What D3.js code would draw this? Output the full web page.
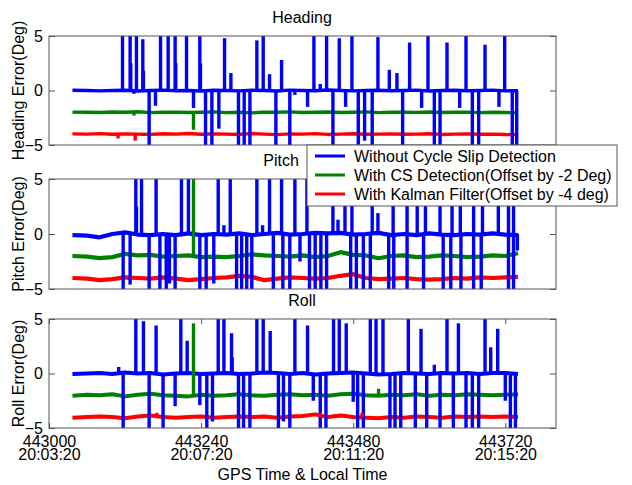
<!DOCTYPE html>
<html><head><meta charset="utf-8">
<script src="https://cdn.jsdelivr.net/npm/d3@7"></script>
<style>
body{margin:0;background:#fff;}
svg text{font-family:"Liberation Sans",Arial,sans-serif;font-size:16px;fill:#000;}
</style></head>
<body><svg id="c" width="632" height="485"></svg>
<script>
// ---------- data ----------
const xTicks = [443000, 443240, 443480, 443720];
const gpsLabels = ["443000", "443240", "443480", "443720"];
const timeLabels = ["20:03:20", "20:07:20", "20:11:20", "20:15:20"];
const yTicks = [-5, 0, 5];
const panelTitles = ["Heading", "Pitch", "Roll"];
const yLabels = ["Heading Error(Deg)", "Pitch Error(Deg)", "Roll Error(Deg)"];
const xLabel = "GPS Time & Local Time";
const seriesNames = ["Without Cycle Slip Detection", "With CS Detection(Offset by -2 Deg)", "With Kalman Filter(Offset by -4 deg)"];
const offsets = [0, -2, -4];

const baseTimes = [443037, 443060, 443080, 443100, 443120, 443140, 443160, 443180, 443200, 443220, 443240, 443260,
  443280, 443300, 443320, 443340, 443360, 443380, 443400, 443420, 443440, 443460, 443480, 443500,
  443520, 443540, 443560, 443580, 443600, 443620, 443640, 443660, 443680, 443700, 443720, 443740];

const headingBlue = [0.02, 0.0, -0.03, 0.0, 0.02, -0.05, 0.0, 0.03, -0.02, 0.0, -0.04, 0.02, 0.0, -0.03, 0.02, 0.0, -0.05, 0.03, 0.0, -0.02, 0.04, 0.0, -0.03, 0.0, 0.02, -0.02, 0.0, 0.03, -0.04, 0.0, 0.02, -0.02, 0.0, 0.03, -0.03, -0.02];
const headingGreen = [-1.98, -2.0, -2.02, -1.97, -2.0, -1.95, -2.03, -2.0, -1.98, -2.02, -2.0, -1.96, -2.03, -2.0, -2.05, -1.98, -2.0, -1.96, -2.02, -2.0, -1.97, -2.02, -2.0, -1.96, -2.03, -2.0, -1.98, -2.01, -1.97, -2.02, -2.0, -1.98, -2.03, -2.0, -2.02, -2.05];
const headingRed = [-3.98, -4.0, -3.96, -4.02, -3.98, -4.0, -4.03, -3.97, -4.0, -3.95, -4.02, -3.98, -4.0, -4.03, -3.95, -4.0, -4.05, -3.98, -4.0, -3.96, -4.03, -4.0, -3.97, -4.02, -4.0, -3.98, -4.02, -4.0, -3.97, -4.03, -4.0, -3.98, -4.02, -4.0, -4.04, -4.05];

const pitchBlue = [-0.1, -0.15, -0.3, 0.0, 0.15, -0.05, -0.1, 0.0, -0.1, 0.05, -0.1, 0.0, -0.05, 0.05, -0.1, 0.0, 0.1, -0.05, 0.0, 0.1, 0.05, 0.1, -0.05, 0.0, 0.1, -0.1, 0.0, -0.1, 0.05, -0.05, -0.1, 0.0, -0.05, 0.05, -0.05, -0.1];
const pitchGreen = [-2.0, -2.05, -2.2, -2.1, -1.8, -1.95, -1.9, -2.05, -2.0, -1.95, -2.1, -2.05, -2.1, -2.0, -1.85, -1.95, -2.0, -2.05, -1.95, -2.1, -2.0, -1.65, -1.9, -1.95, -2.2, -2.0, -1.95, -2.1, -2.05, -1.95, -2.0, -2.1, -2.05, -1.95, -2.0, -1.75];
const pitchRed = [-4.0, -4.05, -4.2, -4.1, -3.95, -4.0, -4.05, -3.95, -4.05, -4.2, -4.1, -4.0, -3.95, -3.8, -3.9, -4.2, -4.05, -3.95, -4.0, -4.05, -4.0, -3.8, -3.65, -4.0, -4.1, -4.05, -4.0, -4.1, -4.15, -4.1, -4.0, -4.05, -3.95, -4.0, -3.95, -3.9];

const rollBlue = [-0.05, 0.0, 0.05, -0.05, 0.1, 0.0, 0.05, -0.1, 0.0, 0.05, -0.05, 0.0, 0.05, -0.05, 0.0, 0.1, 0.05, -0.05, 0.05, -0.1, 0.0, 0.05, 0.1, 0.0, -0.1, -0.05, 0.05, 0.0, -0.05, 0.05, 0.0, 0.05, -0.05, 0.05, 0.05, -0.05];
const rollGreen = [-2.05, -1.95, -2.0, -1.9, -2.1, -1.95, -1.85, -2.0, -2.05, -2.1, -1.95, -2.05, -2.0, -1.9, -2.0, -2.05, -1.95, -1.9, -2.0, -1.95, -2.05, -1.9, -1.85, -2.0, -2.05, -1.95, -2.0, -1.9, -2.05, -1.95, -2.0, -1.9, -1.95, -2.0, -1.95, -1.9];
const rollRed = [-4.05, -4.0, -3.95, -4.0, -4.1, -3.95, -3.85, -4.0, -4.05, -4.0, -3.95, -4.05, -4.0, -3.95, -4.0, -3.95, -4.05, -3.95, -3.9, -3.75, -4.0, -3.85, -4.0, -4.05, -4.1, -4.0, -4.05, -3.95, -4.0, -4.05, -3.95, -4.0, -3.95, -4.0, -3.95, -4.0];

// spikes: [GPS time, peak value] (values beyond +-5 are clipped by the axes)
const headingBlueSpikes = [
  [443116, 8], [443128, 8], [443129, 2.5], [443138, 8], [443148, 4.7], [443149, 1.8], [443176, 8], [443188, 8], [443199, 8], [443200, 2.5],
  [443217, 8], [443238, 8], [443239, 2.5], [443277, 4.8], [443287, 1.6], [443328, 4.6], [443338, 8], [443348, 1.5], [443367, 2.8],
  [443418, 8], [443428, 0.6], [443438, 8], [443458, 4.8], [443478, 8], [443519, 4.9], [443537, 1.9], [443549, 1.6], [443569, 4.4],
  [443598, 8], [443628, 4.4], [443658, 8], [443688, 4.2], [443719, 8],
  [443134, -0.3], [443158, -8], [443168, -1.4], [443228, -1.6], [443247, -8], [443257, -8], [443268, -3.5], [443299, -8], [443308, -8],
  [443317, -8], [443358, -8], [443380, -8], [443388, -0.4], [443408, -1.5], [443448, -8], [443468, -1.5], [443488, -8], [443498, -4.6],
  [443510, -8], [443558, -8], [443588, -1.6], [443608, -8], [443617, -8], [443648, -1.6], [443668, -8], [443678, -8], [443710, -1.5],
  [443731, -8], [443738, -8]];
const headingGreenSpikes = [[443134, -2.3], [443228, -3.6]];
const headingRedSpikes = [[443109, -4.4], [443136, -4.6]];

const pitchBlueSpikes = [
  [443137, 8], [443138, 2.5], [443146, 8], [443169, 8], [443209, 8], [443220, 8], [443267, 8], [443276, 0.8], [443286, 8], [443328, 8],
  [443337, 0.8], [443348, 8], [443367, 8], [443388, 8], [443407, 8], [443448, 8], [443456, 1.3], [443467, 8], [443478, 8], [443510, 8],
  [443519, 1.9], [443543, 8], [443565, 8], [443581, 8], [443594, 8], [443617, 8], [443636, 8], [443649, 8], [443670, 8], [443684, 8],
  [443709, 8], [443725, 8], [443733, 8],
  [443117, -8], [443128, -4.6], [443158, -8], [443175, -8], [443185, -8], [443190, -4.5], [443199, -8], [443238, -8], [443248, -8],
  [443260, -4.5], [443296, -8], [443304, -8], [443312, -8], [443320, -8], [443354, -8], [443369, -8], [443380, -8], [443396, -2.5],
  [443411, -8], [443420, -8], [443429, -8], [443438, -8], [443476, -8], [443485, -8], [443496, -8], [443507, -8], [443536, -8],
  [443544, -8], [443565, -8], [443591, -8], [443622, -8], [443634, -8], [443650, -8], [443670, -8], [443682, -8], [443725, -8],
  [443733, -8], [443739, -1.5]];
const pitchGreenSpikes = [[443228, 8]];
const pitchRedSpikes = [];

const rollBlueSpikes = [
  [443137, 8], [443149, 4.8], [443169, 4.4], [443208, 8], [443218, 3.0], [443267, 8], [443276, 8], [443288, 3.7], [443289, 1.5],
  [443328, 8], [443338, 8], [443349, 3.9], [443388, 8], [443408, 4.4], [443449, 8], [443458, 8], [443469, 4.6], [443507, 8],
  [443516, 8], [443527, 8], [443567, 8], [443587, 4.1], [443608, 0.8], [443628, 8], [443646, 4.6], [443688, 8], [443697, 2.4],
  [443708, 4.1], [443110, 0.6],
  [443117, -8], [443158, -8], [443180, -8], [443199, -3.0], [443238, -2.9], [443249, -8], [443258, -4.4], [443299, -8], [443307, -8],
  [443317, -8], [443362, -8], [443370, -4.4], [443380, -8], [443417, -2.5], [443428, -8], [443437, -8], [443480, -2.6], [443487, -8],
  [443496, -8], [443538, -8], [443546, -8], [443555, -8], [443578, -8], [443596, -8], [443617, -8], [443638, -8], [443658, -8],
  [443668, -8], [443678, -8], [443720, -2.5], [443728, -8], [443736, -8]];
const rollGreenSpikes = [[443228, 4.6], [443520, -1.4]];
const rollRedSpikes = [[443170, -3.6], [443428, -3.6], [443494, -3.6]];

const panelSeries = [
  [headingBlue, headingGreen, headingRed],
  [pitchBlue, pitchGreen, pitchRed],
  [rollBlue, rollGreen, rollRed]];
const panelSpikes = [
  [headingBlueSpikes, headingGreenSpikes, headingRedSpikes],
  [pitchBlueSpikes, pitchGreenSpikes, pitchRedSpikes],
  [rollBlueSpikes, rollGreenSpikes, rollRedSpikes]];

// ---------- drawing ----------
const colors = ["#0000ff", "#008000", "#ff0000"];
const axisColor = "#555";
const L = 49, R = 556;
const panels = [{top: 36, bottom: 145, lw: 3.4}, {top: 179, bottom: 289, lw: 4.2}, {top: 319, bottom: 428, lw: 4.0}];
const svg = d3.select("#c");
const x = d3.scaleLinear().domain([443000, 443800]).range([L, R]);
const drawOrder = [2, 1, 0];

panels.forEach((p, i) => {
  const y = d3.scaleLinear().domain([-5, 5]).range([p.bottom, p.top]);
  const clipId = "clip" + i;
  svg.append("clipPath").attr("id", clipId).append("rect")
    .attr("x", L).attr("y", p.top).attr("width", R - L).attr("height", p.bottom - p.top);
  const g = svg.append("g").attr("clip-path", `url(#${clipId})`);
  const line = d3.line().x((d, k) => x(baseTimes[k])).y(d => y(d));
  drawOrder.forEach(s => {
    g.append("path").datum(panelSeries[i][s]).attr("d", line)
      .attr("fill", "none").attr("stroke", colors[s]).attr("stroke-width", p.lw).attr("stroke-linejoin", "round");
  });
  [0, 1, 2].forEach(s => {
    g.selectAll(null).data(panelSpikes[i][s]).enter().append("line")
      .attr("x1", d => x(d[0])).attr("x2", d => x(d[0]))
      .attr("y1", y(offsets[s])).attr("y2", d => y(d[1]))
      .attr("stroke", colors[s]).attr("stroke-width", 3.4);
  });
  svg.append("rect").attr("x", L).attr("y", p.top).attr("width", R - L).attr("height", p.bottom - p.top)
    .attr("fill", "none").attr("stroke", axisColor).attr("stroke-width", 1);
  const ya = svg.append("g").attr("transform", `translate(${L},0)`)
    .call(d3.axisLeft(y).tickValues(yTicks).tickSizeInner(-6).tickSizeOuter(0).tickPadding(6));
  ya.select(".domain").remove();
  ya.selectAll("line").attr("stroke", axisColor);
  ya.selectAll("text").attr("font-size", 16).attr("font-family", "Liberation Sans, Arial, sans-serif").attr("fill", "#000");
  const yr = svg.append("g").attr("transform", `translate(${R},0)`)
    .call(d3.axisRight(y).tickValues(yTicks).tickSizeInner(-6).tickSizeOuter(0).tickFormat(""));
  yr.select(".domain").remove();
  yr.selectAll("line").attr("stroke", axisColor);
  svg.append("text").attr("x", i === 1 ? 281 : 302).attr("y", p.top - 13)
    .attr("text-anchor", "middle").text(panelTitles[i]);
  svg.append("text").attr("transform", `translate(24,${(p.top + p.bottom) / 2}) rotate(-90)`)
    .attr("text-anchor", "middle").text(yLabels[i]);
  if (i === 2) {
    const xb = svg.append("g").attr("transform", `translate(0,${p.bottom})`)
      .call(d3.axisBottom(x).tickValues(xTicks).tickSizeInner(-5).tickSizeOuter(0).tickFormat(""));
    xb.select(".domain").remove();
    xb.selectAll("line").attr("stroke", axisColor);
    xb.selectAll(".tick").each(function(d, k) {
      const t = d3.select(this).append("text").attr("text-anchor", "middle")
        .attr("font-size", 16).attr("font-family", "Liberation Sans, Arial, sans-serif").attr("fill", "#000");
      t.append("tspan").attr("x", 0).attr("y", 18.5).text(gpsLabels[k]);
      t.append("tspan").attr("x", 0).attr("y", 32).text(timeLabels[k]);
    });
    const xt = svg.append("g").attr("transform", `translate(0,${p.top})`)
      .call(d3.axisTop(x).tickValues(xTicks).tickSizeInner(-5).tickSizeOuter(0).tickFormat(""));
    xt.select(".domain").remove();
    xt.selectAll("line").attr("stroke", axisColor);
    svg.append("text").attr("x", (L + R) / 2).attr("y", 480).attr("text-anchor", "middle").text(xLabel);
  }
});

const lg = svg.append("g");
lg.append("rect").attr("x", 307).attr("y", 145).attr("width", 310).attr("height", 61)
  .attr("fill", "#fff").attr("stroke", axisColor).attr("stroke-width", 1);
seriesNames.forEach((n, k) => {
  const cy = 156 + k * 19;
  lg.append("line").attr("x1", 315).attr("x2", 345).attr("y1", cy).attr("y2", cy)
    .attr("stroke", colors[k]).attr("stroke-width", 3);
  lg.append("text").attr("x", 354).attr("y", cy + 6).text(n);
});
</script></body></html>
